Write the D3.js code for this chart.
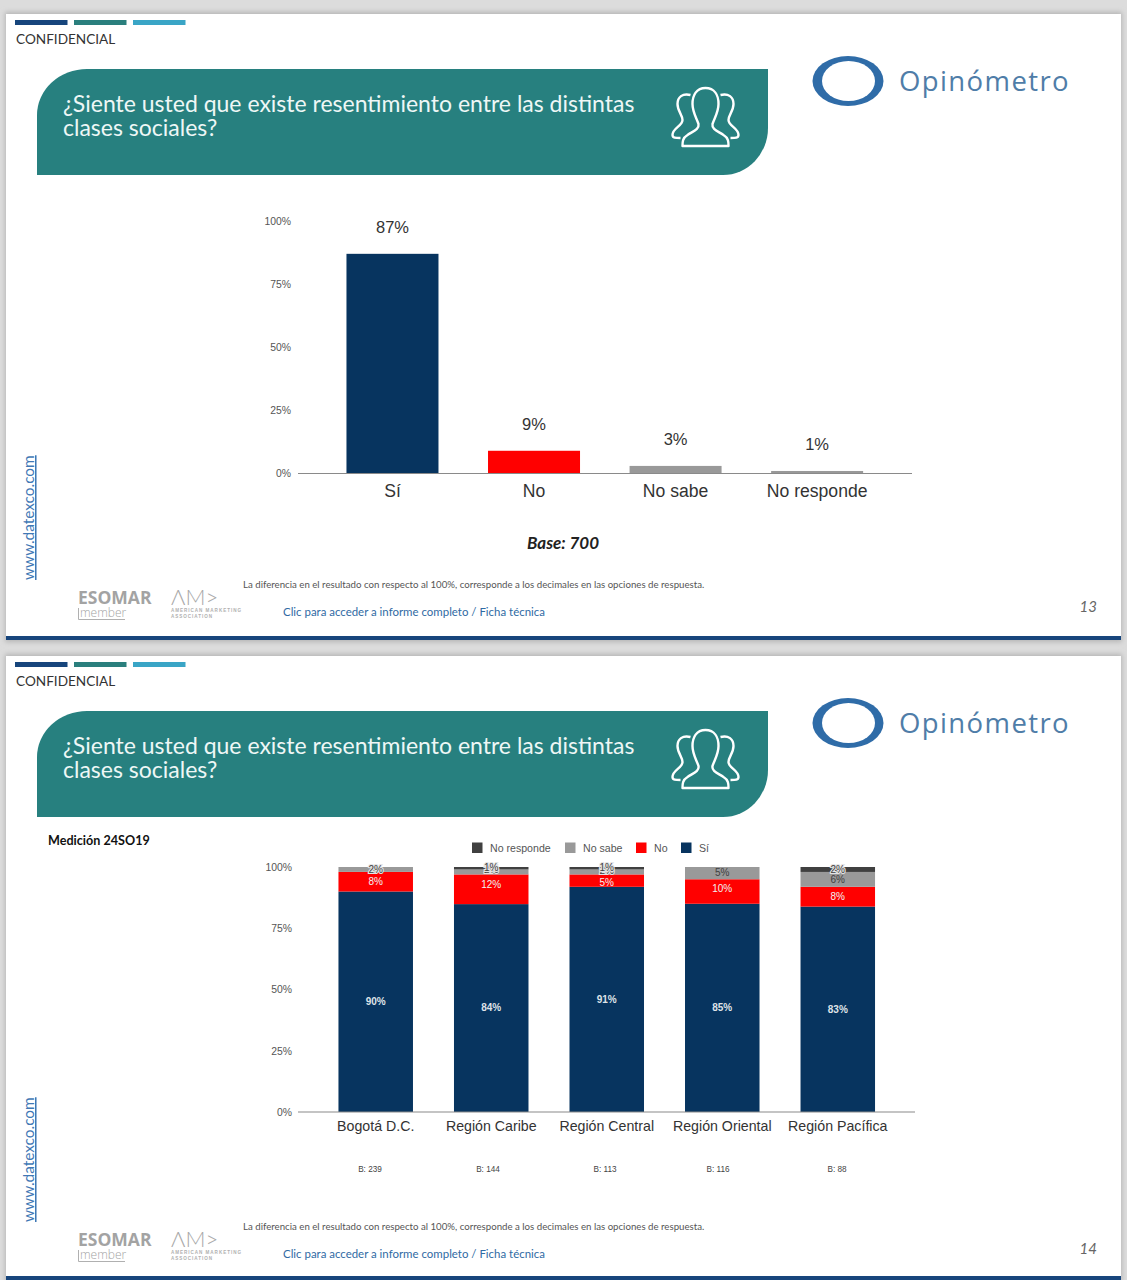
<!DOCTYPE html>
<html><head><meta charset="utf-8">
<script src="https://cdn.jsdelivr.net/npm/d3@7/dist/d3.min.js"></script>
<style>html,body{margin:0;padding:0;background:#dcdcdc;overflow:hidden}svg{display:block}</style>
</head><body><svg id="c" width="1127" height="1280"></svg>
<script>
const totalCategories = ["Sí","No","No sabe","No responde"];
const totalValues = [87,9,3,1];
const totalColors = ["#07345f","#ff0000","#999999","#999999"];
const yTickValues = [0,25,50,75,100];
const regions = ["Bogotá D.C.","Región Caribe","Región Central","Región Oriental","Región Pacífica"];
const regionBases = ["B: 239","B: 144","B: 113","B: 116","B: 88"];
const siValues = [90,84,91,85,83];
const noValues = [8,12,5,10,8];
const noSabeValues = [2,2,2,5,6];
const noRespondeValues = [0,1,1,0,2];
const seriesKeys = ["Sí","No","No sabe","No responde"];
const seriesColors = {"Sí":"#07345f","No":"#ff0000","No sabe":"#999999","No responde":"#404040"};
const legendOrder = ["No responde","No sabe","No","Sí"];
const titleLines = ["¿Siente usted que existe resentimiento entre las distintas","clases sociales?"];
const footnote = "La diferencia en el resultado con respecto al 100%, corresponde a los decimales en las opciones de respuesta.";
const linkText = "Clic para acceder a informe completo / Ficha técnica";

const svg = d3.select("#c");
const defs = svg.append("defs");
const f = defs.append("filter").attr("id","sh").attr("x","-3%").attr("y","-3%").attr("width","106%").attr("height","106%");
f.append("feGaussianBlur").attr("stdDeviation",2.5);
const LATO="Lato,'Open Sans',sans-serif", ARIAL="'Liberation Sans',Arial,sans-serif";

function frame(g,pageNo,h){
  g.append("rect").attr("x",5).attr("y",-2).attr("width",1117).attr("height",h+4).attr("fill","#b5b5b5").attr("filter","url(#sh)");
  g.append("rect").attr("x",6).attr("y",0).attr("width",1115).attr("height",h).attr("fill","#fff");
  g.append("rect").attr("x",6).attr("y",h-4).attr("width",1115).attr("height",4).attr("fill","#17457c");
  [[15,"#17457c"],[74,"#2a7f7d"],[133,"#3aa5c6"]].forEach(d=>g.append("rect").attr("x",d[0]).attr("y",6).attr("width",52.5).attr("height",5).attr("fill",d[1]));
  g.append("text").attr("x",16).attr("y",30).attr("font-family",LATO).attr("font-size",13.6).attr("fill","#333").text("CONFIDENCIAL");
  g.append("path").attr("fill","#27807f").attr("d","M37 161 V101 A50 46 0 0 1 87 55 H768 V114 A45 47 0 0 1 723 161 Z");
  titleLines.forEach((t,i)=>g.append("text").attr("x",63).attr("y",98+i*24).attr("font-family",LATO).attr("font-size",23).attr("fill","#eef7f6").text(t));
  const ic=g.append("g").attr("transform","translate(705.5,0)").attr("fill","none").attr("stroke","#fff").attr("stroke-width",2.4).attr("stroke-linejoin","round");
  ic.append("path").attr("d","M0 74 C-9 74 -13 81 -13 90 C-13 98 -9 104 -7 110 C-6 115 -12 117 -18 121 C-23 124 -23 128 -23 132 L23 132 C23 128 23 124 18 121 C12 117 6 115 7 110 C9 104 13 98 13 90 C13 81 9 74 0 74 Z");
  [1,-1].forEach(s=>ic.append("path").attr("transform",`scale(${s},1)`).attr("d","M-15 81 C-23 79 -28 83 -28 90 C-28 97 -23 101 -23 106 C-23 112 -33 114 -33 121 C-33 124 -30 124 -25 124"));
  g.append("ellipse").attr("cx",848).attr("cy",67).attr("rx",35.5).attr("ry",25).attr("fill","#2f6ca8");
  g.append("ellipse").attr("cx",848.5).attr("cy",67).attr("rx",26.5).attr("ry",20).attr("fill","#fff");
  g.append("text").attr("x",899).attr("y",77).attr("font-family","'Open Sans',sans-serif").attr("font-size",27.5).attr("letter-spacing",1.4).attr("fill","#4f7da8").text("Opinómetro");
  g.append("text").attr("transform","translate(34,566) rotate(-90)").attr("font-family",LATO).attr("font-size",15.4).attr("fill","#3f78b5").attr("text-decoration","underline").text("www.datexco.com");
  g.append("text").attr("x",78).attr("y",590).attr("font-family","'Open Sans',sans-serif").attr("font-weight",700).attr("font-size",17.5).attr("fill","#a3a3a3").text("ESOMAR");
  g.append("text").attr("x",80).attr("y",603).attr("font-family","'Open Sans',sans-serif").attr("font-weight",300).attr("font-size",12).attr("fill","#a3a3a3").text("member");
  g.append("path").attr("d","M78.5 594 V605.5 H125").attr("fill","none").attr("stroke","#b0b0b0");
  g.append("text").attr("x",171).attr("y",591).attr("font-family",LATO).attr("font-weight",300).attr("font-size",22).attr("fill","#a8a8a8").text("ΛM>");
  ["AMERICAN MARKETING","ASSOCIATION"].forEach((t,i)=>g.append("text").attr("x",171).attr("y",598+i*6).attr("font-family",ARIAL).attr("font-weight",700).attr("font-size",4.6).attr("letter-spacing",.95).attr("fill","#b0b0b0").text(t));
  g.append("text").attr("x",243).attr("y",574).attr("font-family",LATO).attr("font-size",9.66).attr("fill","#555").text(footnote);
  g.append("text").attr("x",283).attr("y",602).attr("font-family",LATO).attr("font-size",11.45).attr("fill","#2f6aa3").text(linkText);
  g.append("text").attr("x",1097).attr("y",598).attr("text-anchor","end").attr("font-family",LATO).attr("font-style","italic").attr("font-size",15).attr("fill","#666").text(pageNo);
}
function yAxis(g,y,x){
  const a=g.append("g").attr("transform",`translate(${x},0)`).call(d3.axisLeft(y).tickValues(yTickValues).tickSize(0).tickPadding(0).tickFormat(d=>d+"%"));
  a.select(".domain").remove();
  a.selectAll("text").attr("y",0).attr("font-family",ARIAL).attr("font-size",10.4).attr("fill","#555");
}
function baseline(g,y,x1,x2){g.append("line").attr("x1",x1).attr("x2",x2).attr("y1",y(0)).attr("y2",y(0)).attr("stroke","#8a8a8a").attr("stroke-width",1.2);}

// Slide 13
const s1=svg.append("g").attr("transform","translate(0,14)");
frame(s1,"13",626);
{
  const y=d3.scaleLinear().domain([0,100]).range([459.5,207]);
  const x=d3.scaleBand().domain(totalCategories).range([321.7,887.9]).paddingInner(.35).paddingOuter(.175);
  yAxis(s1,y,291);
  s1.selectAll(".bar").data(totalCategories).join("rect").attr("x",d=>x(d)).attr("width",x.bandwidth())
    .attr("y",(d,i)=>y(totalValues[i])).attr("height",(d,i)=>y(0)-y(totalValues[i])).attr("fill",(d,i)=>totalColors[i]);
  baseline(s1,y,298,912);
  s1.selectAll(".lab").data(totalCategories).join("text").attr("x",d=>x(d)+x.bandwidth()/2).attr("y",(d,i)=>y(totalValues[i])-21)
    .attr("text-anchor","middle").attr("font-family",ARIAL).attr("font-size",16.5).attr("fill","#333").text((d,i)=>totalValues[i]+"%");
  const ax=s1.append("g").attr("transform",`translate(0,${y(0)})`).call(d3.axisBottom(x).tickSize(0).tickPadding(11));
  ax.select(".domain").remove();
  ax.selectAll("text").attr("font-family",ARIAL).attr("font-size",17.6).attr("fill","#333");
  s1.append("text").attr("x",563).attr("y",535).attr("text-anchor","middle").attr("font-family",LATO).attr("font-weight",700).attr("font-style","italic").attr("font-size",17).attr("fill","#222").text("Base: 700");
}
// Slide 14
const s2=svg.append("g").attr("transform","translate(0,656)");
frame(s2,"14",624);
{
  const y=d3.scaleLinear().domain([0,1]).range([456,211]);
  const x=d3.scaleBand().domain(regions).range([318.25,895.25]).paddingInner(.355).paddingOuter(.175);
  const rows=regions.map((r,i)=>({region:r,"Sí":siValues[i],"No":noValues[i],"No sabe":noSabeValues[i],"No responde":noRespondeValues[i]}));
  const stack=d3.stack().keys(seriesKeys).offset(d3.stackOffsetExpand)(rows);
  yAxis(s2,d3.scaleLinear().domain([0,100]).range([456,211]),292);
  s2.append("g").selectAll("g").data(stack).join("g").attr("fill",d=>seriesColors[d.key]).selectAll("rect").data(d=>d).join("rect")
    .attr("x",d=>x(d.data.region)).attr("width",x.bandwidth()).attr("y",d=>y(d[1])).attr("height",d=>y(d[0])-y(d[1]));
  baseline(s2,y,298,915);
  // layout: the reference places a few labels off their segment's centre
  const labelShift = {"No|Región Caribe":-5,"No|Región Central":2,"No|Región Oriental":-3,"No sabe|Región Caribe":-2,"No sabe|Región Central":-1,"No responde|Región Caribe":-1,"No responde|Región Central":-1,"No sabe|Región Oriental":-1};
  stack.forEach(ser=>{
    const k=ser.key, light=(k==="Sí"||k==="No");
    ser.forEach(d=>{
      const v=d.data[k]; if(!v) return;
      const thin=(y(d[0])-y(d[1]))<7 || (k==="No sabe"&&v<=2);
      const cx=x(d.data.region)+x.bandwidth()/2, cy=(y(d[0])+y(d[1]))/2+3.4+(labelShift[k+"|"+d.data.region]||0);
      const t=s2.append("text").attr("x",cx).attr("y",cy).attr("text-anchor","middle").attr("font-family",ARIAL).attr("font-size",10)
        .attr("fill",light?"#f2f2f2":"#404040").text(v+"%");
      if(k==="Sí") t.attr("font-weight",700).attr("fill","#dfe3e8");
      if(thin) t.attr("stroke","#e4e4e4").attr("stroke-width",2.2).attr("paint-order","stroke");
    });
  });
  const ax=s2.append("g").attr("transform",`translate(0,${y(0)})`).call(d3.axisBottom(x).tickSize(0).tickPadding(9));
  ax.select(".domain").remove();
  ax.selectAll("text").attr("font-family",ARIAL).attr("font-size",14.2).attr("fill","#333");
  const bx=d3.scaleOrdinal().domain(regionBases).range([370,488,605,718,837]);
  s2.selectAll(".b").data(regionBases).join("text").attr("x",d=>bx(d)).attr("y",516).attr("text-anchor","middle").attr("font-family",ARIAL).attr("font-size",8.2).attr("fill","#444").text(d=>d);
  s2.append("text").attr("x",48).attr("y",189).attr("font-family",LATO).attr("font-weight",700).attr("font-size",12.6).attr("fill","#111").text("Medición 24SO19");
  const lx=d3.scaleOrdinal().domain(legendOrder).range([472,565,636,681]);
  const lg=s2.selectAll(".l").data(legendOrder).join("g").attr("transform",d=>`translate(${lx(d)},186.5)`);
  lg.append("rect").attr("width",10.5).attr("height",10.5).attr("fill",d=>seriesColors[d]);
  lg.append("text").attr("x",18).attr("y",9.5).attr("font-family",ARIAL).attr("font-size",10.6).attr("fill","#555").text(d=>d);
}
</script></body></html>
